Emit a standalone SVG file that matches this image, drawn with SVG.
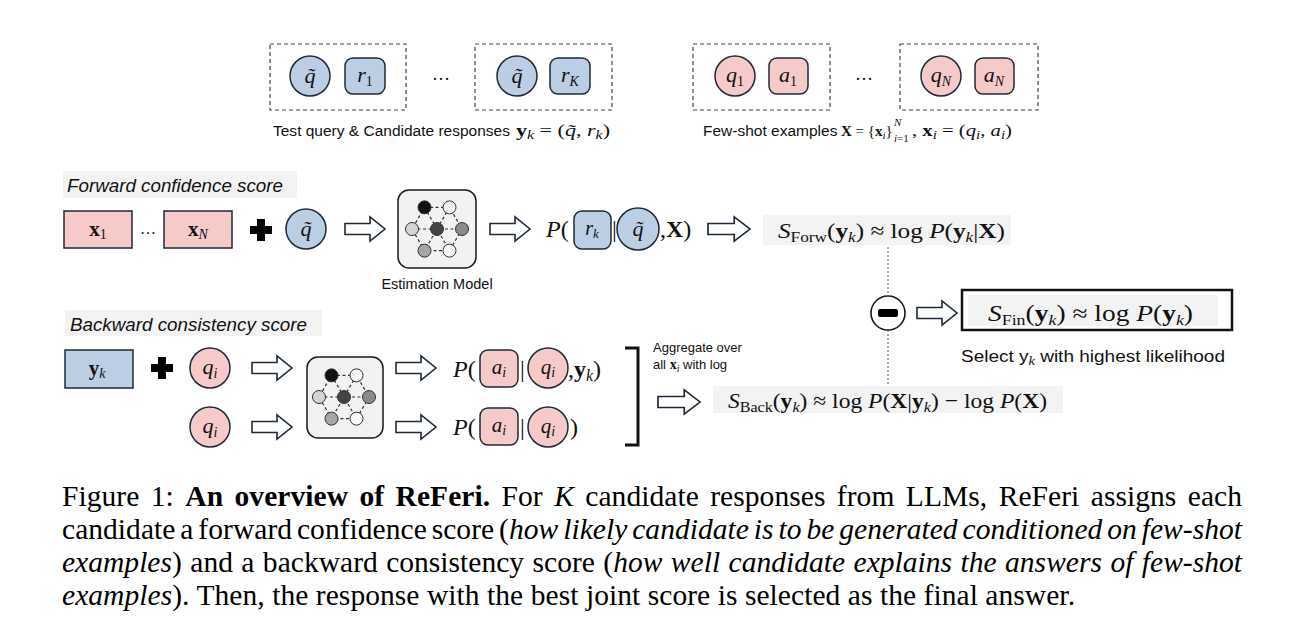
<svg xmlns="http://www.w3.org/2000/svg" width="1300" height="642" viewBox="0 0 1300 642">
<style>
.sans{font-family:"Liberation Sans",Arial,sans-serif;fill:#111}
.m{font-family:"Liberation Serif","DejaVu Serif",serif;fill:#111}
.it{font-style:italic}
.b{font-weight:bold}
.blue{fill:#bccee3;stroke:#1e2a38;stroke-width:1.5}
.pink{fill:#f7caca;stroke:#1e2a38;stroke-width:1.5}
.dbox{fill:none;stroke:#444;stroke-width:1.2;stroke-dasharray:4 3}
.lbg{fill:#f3f3f3}
.harrow{fill:#fff;stroke:#1e2a38;stroke-width:1.6}
.model{fill:#f2f2f2;stroke:#1a1a1a;stroke-width:1.5}
.edge{fill:none;stroke:#333;stroke-width:1.2;stroke-dasharray:3 2.5}
.nd{stroke:#333;stroke-width:1}
.cap{font-family:"Liberation Serif","Times New Roman",serif;font-size:29.5px;fill:#000}
</style>
<defs>
<path id="ha" d="M0,-5.5 H25 V-12 L40,0 L25,12 V5.5 H0 Z"/>
<g id="net">
<path class="edge" d="M-12.5,-21.65 L12.5,-21.65 L25,0 L12.5,21.65 L-12.5,21.65 L-25,0 Z M-25,0 H25 M-12.5,-21.65 L12.5,21.65 M12.5,-21.65 L-12.5,21.65"/>
<circle class="nd" cx="-12.5" cy="-21.65" r="6.5" fill="#111"/>
<circle class="nd" cx="12.5" cy="-21.65" r="6.5" fill="#f4f4f4"/>
<circle class="nd" cx="-25" cy="0" r="6.5" fill="#d4d4d4"/>
<circle class="nd" cx="0" cy="0" r="6.5" fill="#444"/>
<circle class="nd" cx="25" cy="0" r="6.5" fill="#8a8a8a"/>
<circle class="nd" cx="-12.5" cy="21.65" r="6.5" fill="#a6a6a6"/>
<circle class="nd" cx="12.5" cy="21.65" r="6.5" fill="#fafafa"/>
</g>
<g id="plus"><rect x="-11" y="-4" width="22" height="8" fill="#000"/><rect x="-4" y="-11" width="8" height="22" fill="#000"/></g>
</defs>

<!-- Top: test query & candidate responses -->
<g id="cand1">
<rect class="dbox" x="270" y="44" width="136" height="66"/>
<circle class="blue" cx="310" cy="76" r="20"/>
<text class="m it" x="310" y="83" font-size="22" text-anchor="middle">q&#x303;</text>
<rect class="blue" x="345" y="58" width="40" height="36" rx="8"/>
<text class="m" x="365" y="82" font-size="22" text-anchor="middle"><tspan class="it">r</tspan><tspan font-size="14" dy="4">1</tspan></text>
</g>
<text class="m" x="441" y="80" font-size="18" text-anchor="middle">…</text>
<g id="candK">
<rect class="dbox" x="475" y="44" width="137" height="66"/>
<circle class="blue" cx="517" cy="76" r="20"/>
<text class="m it" x="517" y="83" font-size="22" text-anchor="middle">q&#x303;</text>
<rect class="blue" x="550" y="58" width="40" height="36" rx="8"/>
<text class="m" x="570" y="82" font-size="22" text-anchor="middle"><tspan class="it">r</tspan><tspan class="it" font-size="14" dy="4">K</tspan></text>
</g>
<g id="lbl-cand">
<text class="sans" x="273" y="136" font-size="15.5" textLength="237" lengthAdjust="spacingAndGlyphs">Test query &amp; Candidate responses</text>
<text class="m" x="516" y="136" font-size="17.5" textLength="94" lengthAdjust="spacingAndGlyphs"><tspan class="b">y</tspan><tspan class="it" font-size="12.5" dy="3">k</tspan><tspan dy="-3"> = (</tspan><tspan class="it">q&#x303;</tspan>, <tspan class="it">r</tspan><tspan class="it" font-size="12.5" dy="3">k</tspan><tspan dy="-3">)</tspan></text>
</g>

<!-- Top: few-shot examples -->
<g id="ex1">
<rect class="dbox" x="693" y="44" width="137" height="66"/>
<circle class="pink" cx="735" cy="76" r="20"/>
<text class="m" x="735" y="82" font-size="22" text-anchor="middle"><tspan class="it">q</tspan><tspan font-size="14" dy="4">1</tspan></text>
<rect class="pink" x="769" y="58" width="39" height="36" rx="8"/>
<text class="m" x="788" y="82" font-size="22" text-anchor="middle"><tspan class="it">a</tspan><tspan font-size="14" dy="4">1</tspan></text>
</g>
<text class="m" x="864" y="80" font-size="18" text-anchor="middle">…</text>
<g id="exN">
<rect class="dbox" x="900" y="44" width="138" height="66"/>
<circle class="pink" cx="941" cy="76" r="20"/>
<text class="m" x="941" y="82" font-size="22" text-anchor="middle"><tspan class="it">q</tspan><tspan class="it" font-size="14" dy="4">N</tspan></text>
<rect class="pink" x="975" y="58" width="39" height="36" rx="8"/>
<text class="m" x="994" y="82" font-size="22" text-anchor="middle"><tspan class="it">a</tspan><tspan class="it" font-size="14" dy="4">N</tspan></text>
</g>
<g id="lbl-ex">
<text class="sans" x="703" y="136" font-size="15.5">Few-shot examples</text>
<text class="m" x="841" y="136" font-size="15"><tspan class="b">X</tspan> = {<tspan class="b">x</tspan><tspan class="it" font-size="11" dy="3">i</tspan><tspan dy="-3">}</tspan></text>
<text class="m it" x="894" y="126" font-size="11">N</text>
<text class="m" x="894" y="142" font-size="11"><tspan class="it">i</tspan>=1</text>
<text class="m" x="912" y="136" font-size="16.5" textLength="100" lengthAdjust="spacingAndGlyphs">, <tspan class="b">x</tspan><tspan class="it" font-size="12" dy="3">i</tspan><tspan dy="-3"> = (</tspan><tspan class="it">q</tspan><tspan class="it" font-size="12" dy="3">i</tspan><tspan dy="-3">, </tspan><tspan class="it">a</tspan><tspan class="it" font-size="12" dy="3">i</tspan><tspan dy="-3">)</tspan></text>
</g>

<!-- Forward section -->
<g id="fwd-label">
<rect class="lbg" x="63" y="171" width="234" height="27"/>
<text class="sans it" x="67" y="192" font-size="18.8" textLength="216" lengthAdjust="spacingAndGlyphs">Forward confidence score</text>
</g>
<g id="x1">
<rect class="pink" x="64" y="211" width="68" height="37"/>
<text class="m" x="98" y="236" font-size="21" text-anchor="middle"><tspan class="b">x</tspan><tspan font-size="14" dy="3">1</tspan></text>
</g>
<text class="m" x="148" y="234" font-size="16" text-anchor="middle">…</text>
<g id="xN">
<rect class="pink" x="164" y="211" width="68" height="37"/>
<text class="m" x="198" y="236" font-size="21" text-anchor="middle"><tspan class="b">x</tspan><tspan class="it" font-size="14" dy="3">N</tspan></text>
</g>
<use id="plus1" href="#plus" transform="translate(261,230)"/>
<g id="qt-fwd">
<circle class="blue" cx="306" cy="229" r="20"/>
<text class="m it" x="306" y="236" font-size="22" text-anchor="middle">q&#x303;</text>
</g>
<g id="model-fwd">
<rect class="model" x="398" y="190" width="78" height="78" rx="11"/>
<use href="#net" transform="translate(437,229)"/>
<text class="sans" x="437" y="289" font-size="14.5" text-anchor="middle">Estimation Model</text>
</g>
<g id="p-fwd">
<text class="m" x="546" y="237" font-size="24"><tspan class="it">P</tspan>(</text>
<rect class="blue" x="574" y="211" width="37" height="38" rx="8"/>
<text class="m" x="592" y="235" font-size="20" text-anchor="middle"><tspan class="it">r</tspan><tspan class="it" font-size="13" dy="3">k</tspan></text>
<text class="m" x="612" y="237" font-size="24">|</text>
<circle class="blue" cx="638" cy="229" r="21"/>
<text class="m it" x="638" y="236" font-size="22" text-anchor="middle">q&#x303;</text>
<text class="m" x="660" y="237" font-size="24">,<tspan class="b">X</tspan>)</text>
</g>
<g id="s-forw">
<rect class="lbg" x="763" y="215" width="248" height="30"/>
<text class="m" x="778" y="238" font-size="22" textLength="227" lengthAdjust="spacingAndGlyphs"><tspan class="it">S</tspan><tspan font-size="15" dy="4">Forw</tspan><tspan dy="-4">(</tspan><tspan class="b">y</tspan><tspan class="it" font-size="15" dy="4">k</tspan><tspan dy="-4">) ≈ log </tspan><tspan class="it">P</tspan>(<tspan class="b">y</tspan><tspan class="it" font-size="15" dy="4">k</tspan><tspan dy="-4">|</tspan><tspan class="b">X</tspan>)</text>
</g>

<!-- Combine -->
<g id="minus">
<circle cx="888" cy="313" r="17" fill="#fff" stroke="#1a1a1a" stroke-width="1.6"/>
<rect x="878" y="309" width="20" height="8" rx="2" fill="#000"/>
</g>
<g id="s-fin">
<rect x="962" y="290" width="270" height="40" fill="#fff" stroke="#111" stroke-width="2.5"/>
<rect class="lbg" x="968" y="295" width="250" height="31"/>
<text class="m" x="988" y="321" font-size="23" textLength="205" lengthAdjust="spacingAndGlyphs"><tspan class="it">S</tspan><tspan font-size="15" dy="4">Fin</tspan><tspan dy="-4">(</tspan><tspan class="b">y</tspan><tspan class="it" font-size="15" dy="4">k</tspan><tspan dy="-4">) ≈ log </tspan><tspan class="it">P</tspan>(<tspan class="b">y</tspan><tspan class="it" font-size="15" dy="4">k</tspan><tspan dy="-4">)</tspan></text>
<text class="sans" x="961" y="362" font-size="16" textLength="264" lengthAdjust="spacingAndGlyphs">Select y<tspan class="m it" font-size="12" dy="3">k</tspan><tspan dy="-3"> with highest likelihood</tspan></text>
</g>

<!-- Backward section -->
<g id="bwd-label">
<rect class="lbg" x="65" y="310" width="257" height="26"/>
<text class="sans it" x="70" y="331" font-size="18.8" textLength="237" lengthAdjust="spacingAndGlyphs">Backward consistency score</text>
</g>
<g id="yk">
<rect class="blue" x="65" y="350" width="68" height="38"/>
<text class="m" x="97" y="375" font-size="21" text-anchor="middle"><tspan class="b">y</tspan><tspan class="it" font-size="14" dy="3">k</tspan></text>
</g>
<use id="plus2" href="#plus" transform="translate(162,368)"/>
<g id="qi-top">
<circle class="pink" cx="210" cy="368" r="20"/>
<text class="m" x="210" y="374" font-size="22" text-anchor="middle"><tspan class="it">q</tspan><tspan class="it" font-size="14" dy="4">i</tspan></text>
</g>
<g id="qi-bot">
<circle class="pink" cx="210" cy="427" r="20"/>
<text class="m" x="210" y="433" font-size="22" text-anchor="middle"><tspan class="it">q</tspan><tspan class="it" font-size="14" dy="4">i</tspan></text>
</g>
<g id="model-bwd">
<rect class="model" x="307" y="357" width="76" height="81" rx="11"/>
<use href="#net" transform="translate(344,397)"/>
</g>
<g id="p-bwd1">
<text class="m" x="453" y="377" font-size="24"><tspan class="it">P</tspan>(</text>
<rect class="pink" x="480" y="350" width="38" height="37" rx="8"/>
<text class="m" x="499" y="374" font-size="21" text-anchor="middle"><tspan class="it">a</tspan><tspan class="it" font-size="14" dy="3">i</tspan></text>
<text class="m" x="520" y="377" font-size="24">|</text>
<circle class="pink" cx="548" cy="368" r="20"/>
<text class="m" x="548" y="374" font-size="21" text-anchor="middle"><tspan class="it">q</tspan><tspan class="it" font-size="14" dy="3">i</tspan></text>
<text class="m" x="568" y="377" font-size="24">,<tspan class="b">y</tspan><tspan class="it" font-size="16" dy="4">k</tspan><tspan dy="-4">)</tspan></text>
</g>
<g id="p-bwd2">
<text class="m" x="453" y="435" font-size="24"><tspan class="it">P</tspan>(</text>
<rect class="pink" x="480" y="408" width="38" height="37" rx="8"/>
<text class="m" x="499" y="432" font-size="21" text-anchor="middle"><tspan class="it">a</tspan><tspan class="it" font-size="14" dy="3">i</tspan></text>
<text class="m" x="520" y="435" font-size="24">|</text>
<circle class="pink" cx="548" cy="427" r="20"/>
<text class="m" x="548" y="433" font-size="21" text-anchor="middle"><tspan class="it">q</tspan><tspan class="it" font-size="14" dy="3">i</tspan></text>
<text class="m" x="570" y="435" font-size="24">)</text>
</g>
<g id="agg-label">
<text class="sans" x="653" y="352" font-size="13">Aggregate over</text>
<text class="sans" x="653" y="369" font-size="13">all <tspan class="m b" font-size="14">x</tspan><tspan class="m it" font-size="10" dy="3">i</tspan><tspan dy="-3"> with log</tspan></text>
</g>
<g id="s-back">
<rect class="lbg" x="713" y="386" width="350" height="27"/>
<text class="m" x="728" y="408" font-size="22" textLength="319" lengthAdjust="spacingAndGlyphs"><tspan class="it">S</tspan><tspan font-size="15" dy="4">Back</tspan><tspan dy="-4">(</tspan><tspan class="b">y</tspan><tspan class="it" font-size="15" dy="4">k</tspan><tspan dy="-4">) ≈ log </tspan><tspan class="it">P</tspan>(<tspan class="b">X</tspan>|<tspan class="b">y</tspan><tspan class="it" font-size="15" dy="4">k</tspan><tspan dy="-4">) − log </tspan><tspan class="it">P</tspan>(<tspan class="b">X</tspan>)</text>
</g>

<!-- Connectors -->
<g id="connectors">
<use class="harrow" href="#ha" transform="translate(345,229)"/>
<use class="harrow" href="#ha" transform="translate(490,229)"/>
<use class="harrow" href="#ha" transform="translate(708,229) scale(1.05,1)"/>
<use class="harrow" href="#ha" transform="translate(917,313)"/>
<use class="harrow" href="#ha" transform="translate(252,368)"/>
<use class="harrow" href="#ha" transform="translate(252,427)"/>
<use class="harrow" href="#ha" transform="translate(396,368)"/>
<use class="harrow" href="#ha" transform="translate(396,427)"/>
<use class="harrow" href="#ha" transform="translate(658,402) scale(1.05,1)"/>
<path d="M888,247 V296 M888,330 V385" fill="none" stroke="#555" stroke-width="1" stroke-dasharray="2 2"/>
<path d="M625,348 H638 V445 H625" fill="none" stroke="#111" stroke-width="3"/>
</g>

<!-- Caption -->
<g id="caption">
<text class="cap" x="62" y="506" textLength="1180" lengthAdjust="spacing" word-spacing="4">Figure 1: <tspan font-weight="bold">An overview of ReFeri.</tspan> For <tspan font-style="italic">K</tspan> candidate responses from LLMs, ReFeri assigns each</text>
<text class="cap" x="62" y="539" textLength="1180" lengthAdjust="spacing" word-spacing="-2.5">candidate a forward confidence score (<tspan font-style="italic">how likely candidate is to be generated conditioned on few-shot</tspan></text>
<text class="cap" x="62" y="572" textLength="1180" lengthAdjust="spacing" word-spacing="1"><tspan font-style="italic">examples</tspan>) and a backward consistency score (<tspan font-style="italic">how well candidate explains the answers of few-shot</tspan></text>
<text class="cap" x="62" y="605" textLength="1013" lengthAdjust="spacing"><tspan font-style="italic">examples</tspan>). Then, the response with the best joint score is selected as the final answer.</text>
</g>
</svg>
